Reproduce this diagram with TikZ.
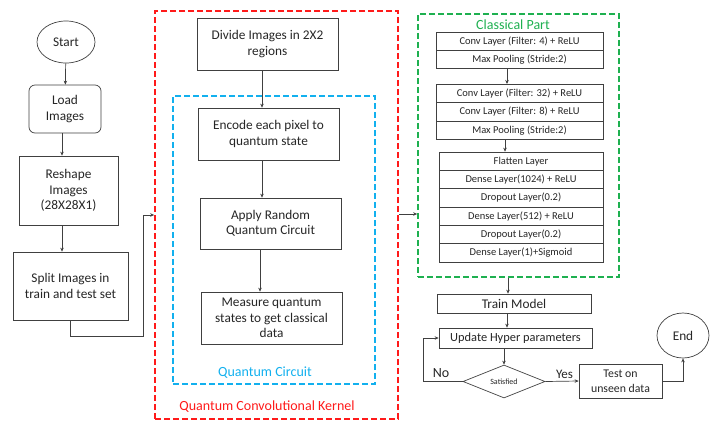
\documentclass[tikz,border=0pt]{standalone}
\usepackage{fontspec}
\setmainfont{Carlito}
\usetikzlibrary{shapes.geometric,arrows.meta}
\definecolor{ln}{HTML}{404040}
\definecolor{tx}{HTML}{262626}
\definecolor{qred}{HTML}{FF1A1A}
\definecolor{qblue}{HTML}{12B0EE}
\definecolor{qgreen}{HTML}{1EB050}
\begin{document}
\begin{tikzpicture}[x=1pt,y=-1pt,
  box/.style={draw=ln, line width=0.7pt, fill=white, align=center, inner sep=1pt, text=tx, font=\fontsize{13.3}{15.5}\selectfont},
  layer/.style={draw=ln, line width=0.7pt, fill=white, inner sep=0pt, text=tx, minimum width=167pt, minimum height=18.3pt, font=\fontsize{10.5}{12}\selectfont},
  slayer/.style={layer, minimum width=164pt},
  frame/.style={dash pattern=on 6pt off 3pt, line width=1.7pt, inner sep=0pt},
  arr/.style={draw=ln, line width=0.7pt, -{Stealth[length=4pt,width=3.5pt]}},
  lab/.style={inner sep=0pt, font=\fontsize{14}{16}\selectfont}]
\useasboundingbox (0,0) rectangle (715,424);
% frames
\node[frame, draw=qred, minimum width=243pt, minimum height=408pt] (qck) at (276.5,215) {};
\node[frame, draw=qblue, minimum width=202pt, minimum height=288pt] (qc) at (274,240) {};
\node[frame, draw=qgreen, minimum width=201pt, minimum height=263pt] (cp) at (518.5,145.5) {};
\node[lab, text=qred] (qckl) at (267,407) {Quantum Convolutional Kernel};
\node[lab, text=qblue] (qcl) at (265,373) {Quantum Circuit};
\node[lab, text=qgreen] (cpl) at (513,24.5) {Classical Part};
% left column
\node[box, ellipse, minimum width=58pt, minimum height=42pt, inner sep=0pt] (start) at (66,42) {Start};
\node[box, rounded corners=6pt, minimum width=72pt, minimum height=48pt] (load) at (65,109) {Load\\Images};
\node[box, minimum width=99pt, minimum height=69pt] (reshape) at (68.5,190.5) {Reshape\\Images\\(28X28X1)};
\node[box, minimum width=115pt, minimum height=68pt] (split) at (70.5,286) {Split Images in\\train and test set};
% middle
\node[box, minimum width=141pt, minimum height=52pt] (divide) at (267.5,44) {Divide Images in 2X2\\regions};
\node[box, minimum width=141pt, minimum height=52pt] (encode) at (268.5,134) {Encode each pixel to\\quantum state};
\node[box, minimum width=141pt, minimum height=51pt] (apply) at (270.5,223.5) {Apply Random\\Quantum Circuit};
\node[box, minimum width=141pt, minimum height=52pt] (measure) at (271.5,318) {Measure quantum\\states to get classical\\data};
% classical layers
\node[layer, minimum height=18pt] (l1) at (519.5,41.5) {Conv Layer (Filter: 4) + ReLU};
\node[layer, minimum height=18pt] (l2) at (519.5,59.5) {Max Pooling (Stride:2)};
\node[layer] (l3) at (519.5,93.5) {Conv Layer (Filter: 32) + ReLU};
\node[layer] (l4) at (519.5,111.8) {Conv Layer (Filter: 8) + ReLU};
\node[layer] (l5) at (519.5,130.1) {Max Pooling (Stride:2)};
\node[slayer] (l6) at (521,161.2) {Flatten Layer};
\node[slayer] (l7) at (521,179.5) {Dense Layer(1024) + ReLU};
\node[slayer] (l8) at (521,197.8) {Dropout Layer(0.2)};
\node[slayer] (l9) at (521,216.1) {Dense Layer(512) + ReLU};
\node[slayer] (l10) at (521,234.4) {Dropout Layer(0.2)};
\node[slayer] (l11) at (521,252.7) {Dense Layer(1)+Sigmoid};
% bottom right
\node[box, minimum width=154pt, minimum height=19pt] (train) at (514,303.5) {Train Model};
\node[box, minimum width=153pt, minimum height=20pt, font=\fontsize{12.4}{14}\selectfont] (update) at (515.5,338) {Update Hyper parameters};
\node[box, diamond, aspect=2.5, minimum width=82pt, minimum height=33pt, inner sep=0pt, font=\fontsize{8}{9}\selectfont] (sat) at (504,381.5) {Satisfied};
\node[box, minimum width=83pt, minimum height=34pt, font=\fontsize{11.8}{14.5}\selectfont] (test) at (620.5,381) {Test on\\unseen data};
\node[box, ellipse, minimum width=52pt, minimum height=45pt, inner sep=0pt] (end) at (683,335.5) {End};
% connectors
\draw[arr] (start) -- (load);
\draw[arr] ([xshift=-3pt]load.south) -- ([xshift=-3pt]load.south |- reshape.north);
\draw[arr] ([xshift=-6.5pt]reshape.south) -- ([xshift=-6.5pt]reshape.south |- split.north);
\coordinate (sb) at (143,336);
\draw[arr] (split.south) |- (sb) |- (qck.west);
\draw[arr] ([xshift=-5.5pt]divide.south) -- ([xshift=-5.5pt]divide.south |- encode.north);
\draw[arr] ([xshift=-6.5pt]encode.south) -- ([xshift=-6.5pt]encode.south |- apply.north);
\draw[arr] ([xshift=-10.5pt]apply.south) -- ([xshift=-10.5pt]apply.south |- measure.north);
\draw[arr] ([yshift=1pt]qck.east) -- ([yshift=1pt]qck.east -| cp.west);
\draw[arr] ([xshift=-12.5pt]l2.south) -- ([xshift=-12.5pt]l2.south |- l3.north);
\draw[arr] ([xshift=-14.5pt]l5.south) -- ([xshift=-14.5pt]l5.south |- l6.north);
\draw[arr] ([xshift=-6pt]train.north |- cp.south) -- ([xshift=-6pt]train.north);
\draw[arr] ([xshift=-7pt]train.south) -- ([xshift=-7pt]train.south |- update.north);
\draw[arr] (sat.north |- update.south) -- (sat.north);
\draw[arr] (sat.west) -- ++(-39,0) |- (update.west);
\draw[arr] (sat.east) -- (test.west);
\draw[arr] (test.east) -| (end.south);
\node[lab, text=tx] (no) at (441,373) {No};
\node[lab, text=tx, font=\fontsize{13}{15}\selectfont] (yes) at (564.5,374) {Yes};
\end{tikzpicture}
\end{document}
